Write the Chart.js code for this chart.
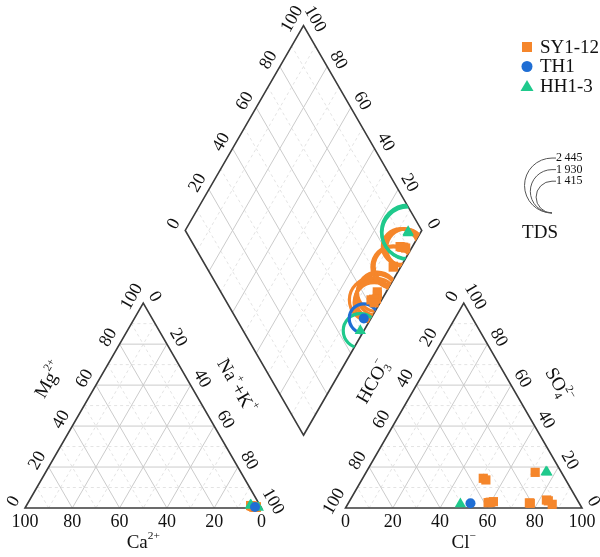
<!DOCTYPE html>
<html>
<head>
<meta charset="utf-8">
<title>Piper</title>
<script src="https://cdn.jsdelivr.net/npm/chart.js@4.4.0/dist/chart.umd.min.js"></script>
<style>
  html, body { margin: 0; padding: 0; background: #fff; }
  #piper { display: block; }
</style>
</head>
<body>
<canvas id="piper" width="600" height="557"></canvas>
<script>
// --- sample data (meq %) ---
const syCa  = [2.5, 3.0, 2.0, 3.5, 2.0, 3.0, 2.5, 4.0, 3.0, 2.5, 3.5, 2.0];
const syMg  = [0.5, 0.8, 0.5, 1.0, 0.4, 0.6, 0.7, 1.2, 0.5, 0.6, 0.8, 0.5];
const syCl  = [51.0, 52.5, 71.5, 59.0, 61.0, 60.0, 77.0, 83.0, 86.5, 76.5, 84.0, 59.5];
const sySO4 = [14.5, 13.7, 17.4, 2.6, 3.1, 2.8, 2.3, 3.9, 1.8, 2.5, 3.5, 2.7];
const syTDS = [1820, 1760, 1690, 1930, 1850, 1640, 1720, 1580, 1650, 1900, 1600, 1780];

const thCa  = [2.5];
const thMg  = [0.5];
const thCl  = [51.7];
const thSO4 = [2.3];
const thTDS = [1300];

const hhCa  = [4.0, 1.2, 3.8];
const hhMg  = [1.4, 0.3, 1.3];
const hhCl  = [76.5, 47.6, 76.0];
const hhSO4 = [17.4, 1.95, 17.6];
const hhTDS = [2380, 1520, 2330];

const legendTDS = [2445, 1930, 1415];
const tickValues = [0, 20, 40, 60, 80, 100];

// --- layout (in canvas units) ---
const S = 236.5, H = S * Math.sqrt(3) / 2, BASE = 508;
const LT = { a: [25, BASE], b: [25 + S, BASE], c: [25 + S / 2, BASE - H] };         // Ca, Na+K, Mg corners
const RT = { a: [345.5, BASE], b: [345.5 + S, BASE], c: [345.5 + S / 2, BASE - H] }; // HCO3, Cl, SO4 corners
const gap = RT.a[0] - LT.b[0];
const DB = [LT.b[0] + gap / 2, BASE - gap * Math.sqrt(3) / 2];
const DL = [DB[0] - S / 2, DB[1] - H];
const DR = [DB[0] + S / 2, DB[1] - H];
const DT = [DB[0], DB[1] - 2 * H];
const TDS_PER_PX = 89;

const COL = { sy: '#f5862b', th: '#1f6ed4', hh: '#1fc98c' };
const FONT = "'Liberation Serif', 'Times New Roman', serif";

function mix(p, q, f) { return [p[0] + (q[0] - p[0]) * f, p[1] + (q[1] - p[1]) * f]; }

function cationPt(ca, mg) {
  const nak = 100 - ca - mg;
  return { x: LT.a[0] + (LT.b[0] - LT.a[0]) * nak / 100 + (LT.c[0] - LT.a[0]) * mg / 100,
           y: LT.a[1] + (LT.c[1] - LT.a[1]) * mg / 100 };
}
function anionPt(cl, so4) {
  return { x: RT.a[0] + (RT.b[0] - RT.a[0]) * cl / 100 + (RT.c[0] - RT.a[0]) * so4 / 100,
           y: RT.a[1] + (RT.c[1] - RT.a[1]) * so4 / 100 };
}
function diamondPt(ca, mg, cl, so4) {
  const c = (ca + mg) / 100, a = (cl + so4) / 100;
  return { x: DB[0] + (DL[0] - DB[0]) * c + (DR[0] - DB[0]) * a,
           y: DB[1] + (DL[1] - DB[1]) * c + (DR[1] - DB[1]) * a };
}

function group(ca, mg, cl, so4) {
  const cat = ca.map((v, i) => cationPt(v, mg[i]));
  const an = cl.map((v, i) => anionPt(v, so4[i]));
  const dia = ca.map((v, i) => diamondPt(v, mg[i], cl[i], so4[i]));
  return cat.concat(an, dia);
}
function rings(ca, mg, cl, so4, tds) {
  return ca.map((v, i) => Object.assign(diamondPt(v, mg[i], cl[i], so4[i]), { tds: tds[i] }));
}

function markerSet(label, pts, style, r, color) {
  return { label, data: pts, pointStyle: style, pointRadius: r, pointBackgroundColor: color,
           pointBorderColor: color, pointBorderWidth: 0, showLine: false, clip: false };
}
function ringSet(label, pts, color) {
  return { label, data: pts, tdsRing: true, pointStyle: 'circle',
           pointRadius: ctx => ctx.raw.tds / TDS_PER_PX,
           pointBackgroundColor: 'rgba(0,0,0,0)', pointBorderColor: color,
           pointBorderWidth: 3.2, showLine: false, clip: false };
}

// --- drawing helpers for the ternary frame ---
function P(chart, p) {
  return [chart.scales.x.getPixelForValue(p[0]), chart.scales.y.getPixelForValue(p[1])];
}
function seg(ctx, chart, p, q) {
  const a = P(chart, p), b = P(chart, q);
  ctx.moveTo(a[0], a[1]); ctx.lineTo(b[0], b[1]);
}
function gridLines(ctx, chart, lines) {
  [[false, '#e3e3e3', [3, 3]], [true, '#cbcbcb', []]].forEach(([major, col, dash]) => {
    ctx.beginPath();
    lines.filter(l => l.major === major).forEach(l => seg(ctx, chart, l.p, l.q));
    ctx.strokeStyle = col; ctx.lineWidth = 1; ctx.setLineDash(dash); ctx.stroke();
  });
  ctx.setLineDash([]);
}
function triGrid(v0, v1, v2) {
  const out = [];
  for (let k = 1; k < 10; k++) {
    const f = k / 10, major = k % 2 === 0;
    [[v0, v1, v2], [v1, v2, v0], [v2, v0, v1]].forEach(([a, b, c]) => {
      out.push({ p: mix(a, b, f), q: mix(a, c, f), major });
    });
  }
  return out;
}
function diaGrid() {
  const out = [];
  for (let k = 1; k < 10; k++) {
    const f = k / 10, major = k % 2 === 0;
    out.push({ p: mix(DB, DL, f), q: mix(DR, DT, f), major });
    out.push({ p: mix(DB, DR, f), q: mix(DL, DT, f), major });
  }
  return out;
}
function poly(ctx, chart, pts) {
  ctx.beginPath();
  pts.forEach((p, i) => { const a = P(chart, p); i ? ctx.lineTo(a[0], a[1]) : ctx.moveTo(a[0], a[1]); });
  ctx.closePath();
}
function tick(ctx, chart, text, pt, n, d, rot) {
  const a = P(chart, [pt[0] + n[0] * d, pt[1] + n[1] * d]);
  ctx.save();
  ctx.translate(a[0], a[1]); ctx.rotate(rot);
  ctx.font = '18px ' + FONT; ctx.fillStyle = '#111';
  ctx.textAlign = 'center'; ctx.textBaseline = 'middle';
  ctx.fillText(text, 0, 0);
  ctx.restore();
}
// parts: [text, kind] with kind '', 'sup', 'sub' or 'both' (text = [sub, sup])
function rich(ctx, chart, parts, pt, rot, size) {
  const a = P(chart, pt), small = size * 0.6;
  ctx.save();
  ctx.translate(a[0], a[1]); ctx.rotate(rot);
  ctx.fillStyle = '#111'; ctx.textBaseline = 'alphabetic';
  const w = parts.map(([t, k]) => {
    if (!k) { ctx.font = size + 'px ' + FONT; return ctx.measureText(t).width; }
    ctx.font = small + 'px ' + FONT;
    return k === 'both' ? Math.max(ctx.measureText(t[0]).width, ctx.measureText(t[1]).width) : ctx.measureText(t).width;
  });
  let x = -w.reduce((s, v) => s + v, 0) / 2;
  const y = size * 0.33;
  parts.forEach(([t, k], i) => {
    if (!k) { ctx.font = size + 'px ' + FONT; ctx.fillText(t, x, y); }
    else {
      ctx.font = small + 'px ' + FONT;
      if (k === 'sup') ctx.fillText(t, x, y - size * 0.5);
      if (k === 'sub') ctx.fillText(t, x, y + size * 0.2);
      if (k === 'both') { ctx.fillText(t[0], x, y + size * 0.2); ctx.fillText(t[1], x, y - size * 0.5); }
    }
    x += w[i];
  });
  ctx.restore();
}

const NL = [-Math.sqrt(3) / 2, -0.5], NR = [Math.sqrt(3) / 2, -0.5], ND = [0, 1];
const ROT_L = -Math.PI / 3, ROT_R = Math.PI / 3;

const piperPlugin = {
  id: 'piper',
  beforeDatasetsDraw(chart) {
    const ctx = chart.ctx;
    ctx.save();
    gridLines(ctx, chart, triGrid(LT.a, LT.b, LT.c));
    gridLines(ctx, chart, triGrid(RT.a, RT.b, RT.c));
    gridLines(ctx, chart, diaGrid());
    ctx.strokeStyle = '#3b3b3b'; ctx.lineWidth = 1.6;
    poly(ctx, chart, [LT.a, LT.b, LT.c]); ctx.stroke();
    poly(ctx, chart, [RT.a, RT.b, RT.c]); ctx.stroke();
    poly(ctx, chart, [DB, DR, DT, DL]); ctx.stroke();
    ctx.restore();
  },
  beforeDatasetDraw(chart, args) {
    if (!chart.data.datasets[args.index].tdsRing) return;
    chart.ctx.save();
    poly(chart.ctx, chart, [DB, DR, DT, DL]);
    chart.ctx.clip();
  },
  afterDatasetDraw(chart, args) {
    if (chart.data.datasets[args.index].tdsRing) chart.ctx.restore();
  },
  afterDraw(chart) {
    const ctx = chart.ctx;
    // tick labels
    tickValues.forEach(v => {
      const f = v / 100;
      tick(ctx, chart, String(v), mix(LT.b, LT.a, f), ND, 14, 0);            // Ca
      tick(ctx, chart, String(v), mix(LT.a, LT.c, f), NL, 13, ROT_L);        // Mg
      tick(ctx, chart, String(v), mix(LT.c, LT.b, f), NR, 13, ROT_R);        // Na+K
      tick(ctx, chart, String(v), mix(RT.a, RT.b, f), ND, 14, 0);            // Cl
      tick(ctx, chart, String(v), mix(RT.c, RT.a, f), NL, 13, ROT_L);        // HCO3
      tick(ctx, chart, String(v), mix(RT.b, RT.c, f), NR, 13, ROT_R);        // SO4
      tick(ctx, chart, String(v), mix(DL, DT, f), NL, 13, ROT_L);            // Cl+SO4
      tick(ctx, chart, String(v), mix(DR, DT, f), NR, 13, ROT_R);            // Ca+Mg
    });
    // axis titles
    rich(ctx, chart, [['Ca', ''], ['2+', 'sup']], [mix(LT.a, LT.b, 0.5)[0], BASE + 34], 0, 19);
    rich(ctx, chart, [['Cl', ''], ['\u2212', 'sup']], [mix(RT.a, RT.b, 0.5)[0], BASE + 34], 0, 19);
    const mgP = mix(LT.a, LT.c, 0.52);
    rich(ctx, chart, [['Mg', ''], ['2+', 'sup']], [mgP[0] + NL[0] * 44, mgP[1] + NL[1] * 44], ROT_L, 19);
    const nkP = mix(LT.c, LT.b, 0.5);
    rich(ctx, chart, [['Na', ''], ['+', 'sup'], ['+K', ''], ['+', 'sup']], [nkP[0] + NR[0] * 40, nkP[1] + NR[1] * 40], ROT_R, 19);
    const hcP = mix(RT.c, RT.a, 0.48);
    rich(ctx, chart, [['HCO', ''], [['3', '\u2212'], 'both']], [hcP[0] + NL[0] * 40, hcP[1] + NL[1] * 40], ROT_L, 19);
    const soP = mix(RT.b, RT.c, 0.5);
    rich(ctx, chart, [['SO', ''], [['4', '2\u2212'], 'both']], [soP[0] + NR[0] * 42, soP[1] + NR[1] * 42], ROT_R, 19);

    // legend
    ctx.save();
    const rows = [['SY1-12', COL.sy, 'rect'], ['TH1', COL.th, 'circle'], ['HH1-3', COL.hh, 'triangle']];
    rows.forEach(([name, col, shape], i) => {
      const y = 47 + i * 19.5, x = 527;
      ctx.fillStyle = col;
      ctx.beginPath();
      if (shape === 'rect') ctx.rect(x - 5, y - 5, 10, 10);
      if (shape === 'circle') ctx.arc(x, y, 5.5, 0, Math.PI * 2);
      if (shape === 'triangle') { ctx.moveTo(x, y - 6); ctx.lineTo(x + 6.5, y + 5); ctx.lineTo(x - 6.5, y + 5); ctx.closePath(); }
      ctx.fill();
      ctx.fillStyle = '#111'; ctx.font = '19px ' + FONT;
      ctx.textAlign = 'left'; ctx.textBaseline = 'middle';
      ctx.fillText(name, 540, y + 1);
    });
    // TDS size legend
    const cx = 552, bottom = 213;
    ctx.strokeStyle = '#555'; ctx.lineWidth = 1;
    ctx.font = '12px ' + FONT; ctx.fillStyle = '#111';
    ctx.textAlign = 'left'; ctx.textBaseline = 'middle';
    legendTDS.forEach(t => {
      const r = t / TDS_PER_PX;
      ctx.beginPath();
      ctx.arc(cx, bottom - r, r, -Math.PI / 2, Math.PI / 2, true);
      ctx.moveTo(cx, bottom - 2 * r); ctx.lineTo(cx + 4, bottom - 2 * r);
      ctx.stroke();
      ctx.fillText(String(t).replace(/(\d)(\d{3})$/, '$1\u2009$2'), cx + 4, bottom - 2 * r);
    });
    ctx.font = '19px ' + FONT; ctx.textAlign = 'center';
    ctx.fillText('TDS', 540, 233);
    ctx.restore();
  }
};

new Chart(document.getElementById('piper'), {
  type: 'scatter',
  data: {
    datasets: [
      markerSet('TH1', group(thCa, thMg, thCl, thSO4), 'circle', 5, COL.th),
      markerSet('HH1-3', group(hhCa, hhMg, hhCl, hhSO4), 'triangle', 6.5, COL.hh),
      markerSet('SY1-12', group(syCa, syMg, syCl, sySO4), 'rect', 6.5, COL.sy),
      ringSet('TH1 TDS', rings(thCa, thMg, thCl, thSO4, thTDS), COL.th),
      ringSet('HH1-3 TDS', rings(hhCa, hhMg, hhCl, hhSO4, hhTDS), COL.hh),
      ringSet('SY1-12 TDS', rings(syCa, syMg, syCl, sySO4, syTDS), COL.sy)
    ]
  },
  options: {
    responsive: false,
    animation: false,
    events: [],
    layout: { padding: 0, autoPadding: false },
    plugins: { legend: { display: false }, tooltip: { enabled: false } },
    scales: {
      x: { type: 'linear', min: 0, max: 600, display: false },
      y: { type: 'linear', min: 0, max: 557, reverse: true, display: false }
    }
  },
  plugins: [piperPlugin]
});
</script>
</body>
</html>
